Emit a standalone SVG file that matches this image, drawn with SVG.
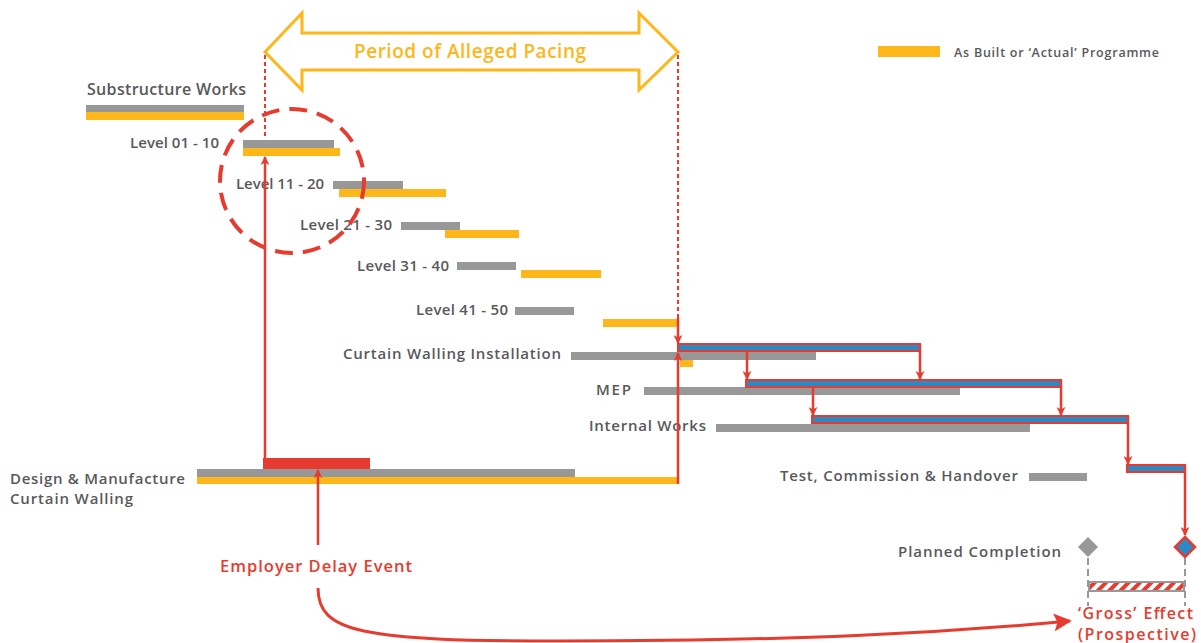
<svg xmlns="http://www.w3.org/2000/svg" width="1201" height="643" viewBox="0 0 1201 643">
<style>
.lbl{font-family:"Open Sans","Liberation Sans",sans-serif;font-weight:600;font-size:15px;fill:#58595B}
.red{font-family:"Open Sans","Liberation Sans",sans-serif;font-weight:600;font-size:16.5px;fill:#E63B2E}
.g{fill:#999898}
.o{fill:#FDB71A}
.b{fill:#2A8AC6;stroke:#E63B2E;stroke-width:2}
.ln{stroke:#E63B2E;stroke-width:2.5;fill:none}
.dot{stroke:#E63B2E;stroke-width:2;stroke-dasharray:4 3;fill:none}
</style>
<defs>
<marker id="ah" viewBox="0 0 10 10" refX="9" refY="5" markerWidth="9" markerHeight="9" markerUnits="userSpaceOnUse" orient="auto">
<path d="M0,0 L10,5 L0,10 L3,5 Z" fill="#E63B2E"/>
</marker>
<marker id="ahb" viewBox="0 0 10 10" refX="9" refY="5" markerWidth="18" markerHeight="18" markerUnits="userSpaceOnUse" orient="auto">
<path d="M0,0 L10,5 L0,10 L2,5 Z" fill="#E63B2E"/>
</marker>
<pattern id="hatch" patternUnits="userSpaceOnUse" width="8" height="8" patternTransform="rotate(45)">
<rect width="8" height="8" fill="#fff"/>
<rect width="4" height="8" fill="#E63B2E"/>
</pattern>
</defs>

<g id="pacing">
<polygon points="265,52 302,13 302,33 639,33 639,13 678,52 639,90 639,70 302,70 302,90" fill="#fff" stroke="#FDB71A" stroke-width="3"/>
<text x="354" y="58" textLength="232" font-family="Open Sans, Liberation Sans, sans-serif" font-weight="600" font-size="19" fill="#FDB71A">Period of Alleged Pacing</text>
</g>

<g id="legend">
<rect x="878" y="46" width="62" height="11" class="o"/>
<text x="954" y="57" class="lbl" style="font-size:12.5px" textLength="205">As Built or ‘Actual’ Programme</text>
</g>

<g id="substructure">
<text x="87" y="95" class="lbl" style="font-size:16px" textLength="159">Substructure Works</text>
<rect x="86" y="105" width="158" height="7" class="g"/>
<rect x="86" y="112" width="158" height="8" class="o"/>
</g>
<g id="level01">
<text x="130" y="148" class="lbl" textLength="89">Level 01 - 10</text>
<rect x="243" y="140" width="91" height="8" class="g"/>
<rect x="243" y="148" width="97" height="8" class="o"/>
</g>
<g id="level11">
<text x="236" y="189" class="lbl" textLength="88">Level 11 - 20</text>
<rect x="333" y="181" width="70" height="8" class="g"/>
<rect x="339" y="189" width="107" height="8" class="o"/>
</g>
<g id="level21">
<text x="300" y="230" class="lbl" textLength="92">Level 21 - 30</text>
<rect x="401" y="222" width="59" height="8" class="g"/>
<rect x="445" y="230" width="74" height="8" class="o"/>
</g>
<g id="level31">
<text x="357" y="271" class="lbl" textLength="92">Level 31 - 40</text>
<rect x="457" y="262" width="59" height="8" class="g"/>
<rect x="521" y="270" width="80" height="8" class="o"/>
</g>
<g id="level41">
<text x="416" y="315" class="lbl" textLength="92">Level 41 - 50</text>
<rect x="515" y="307" width="59" height="8" class="g"/>
<rect x="603" y="319" width="75" height="8" class="o"/>
</g>
<g id="curtain">
<text x="343" y="359" class="lbl" textLength="218">Curtain Walling Installation</text>
<rect x="571" y="352" width="245" height="8" class="g"/>
<rect x="680" y="360" width="13" height="7" class="o"/>
<rect x="678" y="344" width="242" height="7" class="b"/>
</g>
<g id="mep">
<text x="596" y="395" class="lbl" textLength="35">MEP</text>
<rect x="644" y="387" width="316" height="8" class="g"/>
<rect x="746" y="380" width="315" height="7" class="b"/>
</g>
<g id="internal">
<text x="589" y="431" class="lbl" textLength="117">Internal Works</text>
<rect x="716" y="424" width="314" height="8" class="g"/>
<rect x="812" y="416" width="316" height="7" class="b"/>
</g>
<g id="test">
<text x="780" y="481" class="lbl" textLength="238">Test, Commission &amp; Handover</text>
<rect x="1029" y="473" width="58" height="8" class="g"/>
<rect x="1127" y="465" width="58" height="7" class="b"/>
</g>
<g id="design">
<text x="10" y="484" class="lbl" textLength="175">Design &amp; Manufacture</text>
<text x="10" y="504" class="lbl" textLength="123">Curtain Walling</text>
<rect x="263" y="458" width="107" height="11" fill="#E63B2E"/>
<rect x="197" y="469" width="378" height="8" class="g"/>
<rect x="197" y="477" width="480" height="7" class="o"/>
</g>
<g id="employer">
<text x="220" y="572" class="red" textLength="192">Employer Delay Event</text>
</g>
<g id="completion">
<text x="898" y="557" class="lbl" textLength="163">Planned Completion</text>
<path d="M1088,537 L1098,547 L1088,557 L1078,547 Z" fill="#999898"/>
<path d="M1185,537 L1195,547 L1185,557 L1175,547 Z" fill="#2A8AC6" stroke="#E63B2E" stroke-width="2.5"/>
<path d="M1088,558 V606 M1185,558 V606" stroke="#999898" stroke-width="2" stroke-dasharray="7 4"/>
<rect x="1089" y="582" width="95" height="9" fill="url(#hatch)" stroke="#999898" stroke-width="2"/>
</g>
<g id="gross">
<text x="1078" y="619" class="red" style="font-size:16px" textLength="115">‘Gross’ Effect</text>
<text x="1078" y="640" class="red" style="font-size:16px" textLength="118">(Prospective)</text>
</g>

<g id="connectors">
<circle cx="292" cy="181" r="72" fill="none" stroke="#E63B2E" stroke-width="4" stroke-dasharray="18 10"/>
<path class="dot" d="M265,55 V139"/>
<path class="dot" d="M678,55 V318"/>
<path class="ln" d="M678,318 V343" marker-end="url(#ah)"/>
<path class="ln" d="M678,484 V353" marker-end="url(#ah)"/>
<path class="ln" d="M265,458 V157" marker-end="url(#ah)"/>
<path class="ln" d="M318,545 V470" marker-end="url(#ah)"/>
<path class="ln" d="M747,351 V379" marker-end="url(#ah)"/>
<path class="ln" d="M920,344 V379" marker-end="url(#ah)"/>
<path class="ln" d="M813,388 V415" marker-end="url(#ah)"/>
<path class="ln" d="M1061,380 V415" marker-end="url(#ah)"/>
<path class="ln" d="M1128,416 V464" marker-end="url(#ah)"/>
<path class="ln" d="M1185,465 V535" marker-end="url(#ah)"/>
<path class="ln" style="stroke-width:3" d="M318,588 C318,632 360,641 560,641 C800,641 940,633 1070,621" marker-end="url(#ahb)"/>
</g>
</svg>
